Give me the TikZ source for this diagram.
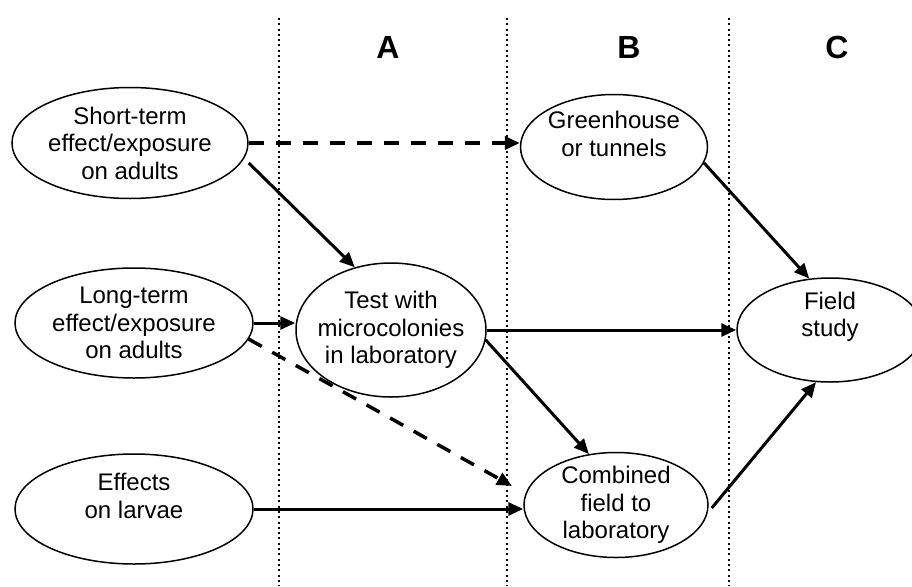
\documentclass[tikz,border=0pt]{standalone}
\usepackage{fontspec}
\setmainfont{Liberation Sans}
\usetikzlibrary{arrows.meta,shapes.geometric}
\begin{document}
\begin{tikzpicture}[x=1pt,y=-1pt,
  ell/.style={draw,ellipse,line width=1.5pt,inner sep=0pt},
  txt/.style={align=center,font=\fontsize{24}{27.5}\selectfont},
  col/.style={font=\fontsize{32}{36}\selectfont\bfseries},
  sep/.style={line width=2pt,dash pattern=on 2pt off 3.3pt},
  arr/.style={line width=3pt,-{Triangle[length=15pt,width=13pt]}},
  darr/.style={line width=3.5pt,dash pattern=on 15pt off 12pt,-{Triangle[length=15pt,width=13pt]}}]
\useasboundingbox (0,0) rectangle (912,586);
% column separators
\draw[sep] (279,18) -- (279,586);
\draw[sep] (507,18) -- (507,586);
\draw[sep] (729,18) -- (729,586);
\node[col] (la) at (388,47) {A};
\node[col] (lb) at (629,47) {B};
\node[col] (lc) at (837,47) {C};
% nodes
\node[ell,minimum width=236pt,minimum height=111pt,
  label={[txt]center:Short-term\\effect/exposure\\on adults}] (st) at (130,143) {};
\node[ell,minimum width=238pt,minimum height=110pt,
  label={[txt]center:Long-term\\effect/exposure\\on adults}] (lt) at (134,323) {};
\node[ell,minimum width=238pt,minimum height=110pt,
  label={[txt,yshift=13pt]center:Effects\\on larvae}] (lv) at (134,509) {};
\node[ell,minimum width=190pt,minimum height=134pt,
  label={[txt]center:Test with\\microcolonies\\in laboratory}] (test) at (391,330) {};
\node[ell,minimum width=187pt,minimum height=105pt,
  label={[txt,yshift=13pt]center:Greenhouse\\or tunnels}] (gh) at (614,147) {};
\node[ell,minimum width=184pt,minimum height=105pt,
  label={[txt]center:Combined\\field to\\laboratory}] (cb) at (616,505) {};
\node[ell,minimum width=186pt,minimum height=104pt,
  label={[txt,yshift=13pt]center:Field\\study}] (fs) at (830,330) {};
\coordinate (dend) at (512,486);
% connectors
\draw[darr] (st.east) -- (st.east -| gh.west);
\draw[arr] ([shift={(0,20)}]st.east) -- (test.120);
\draw[arr] (gh.-10) -- (fs.112);
\draw[arr] (lt.east) -- (lt.east -| test.west);
\draw[darr] (lt.-8) -- (dend);
\draw[arr] (test.east) -- (fs.west);
\draw[arr] (test.-6) -- (cb.118);
\draw[arr] (lv.east) -- (lv.east -| cb.west);
\draw[arr] ([shift={(3,3)}]cb.east) -- (fs.-105);
\end{tikzpicture}
\end{document}
